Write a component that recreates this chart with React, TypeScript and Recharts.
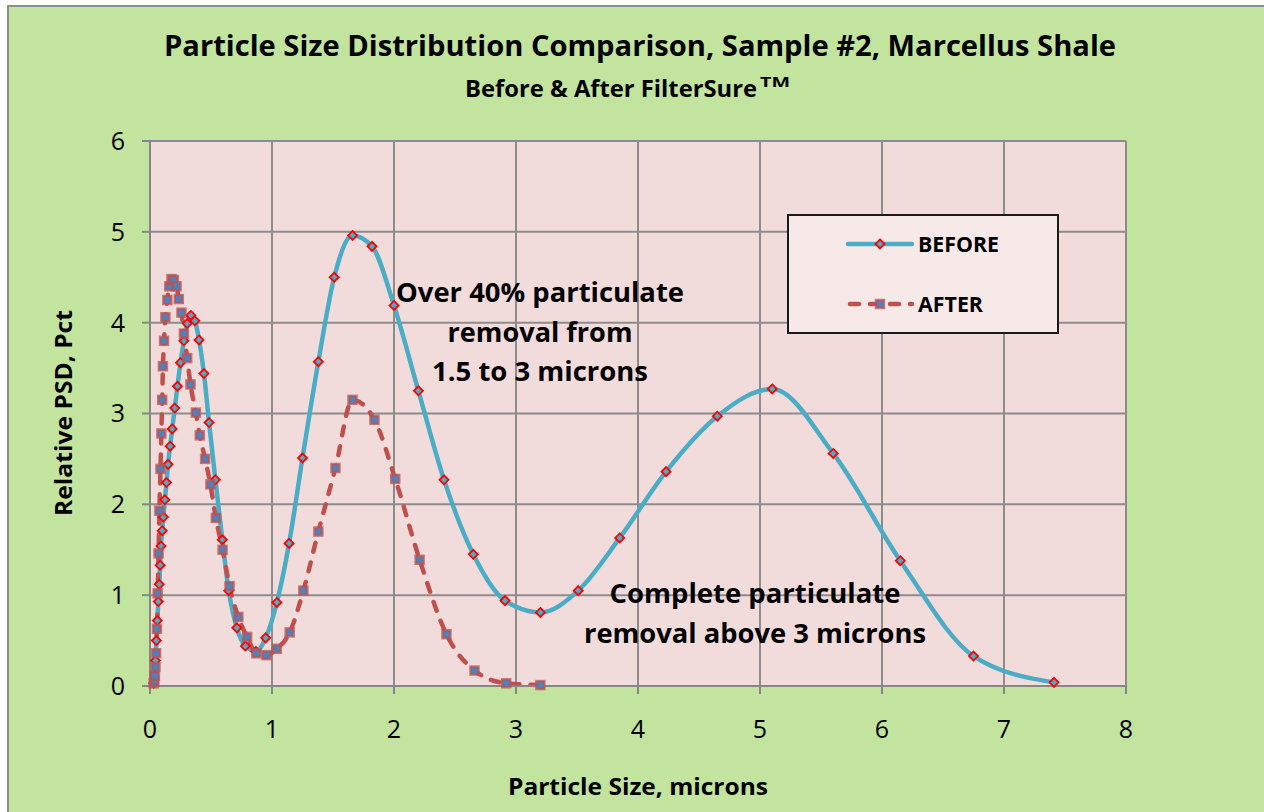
import { LineChart, Line, XAxis, YAxis, CartesianGrid } from "recharts"

// particle size (microns) and relative PSD (%)
const beforeSize = [
    0.03, 0.045, 0.052, 0.06, 0.068, 0.076, 0.083, 0.09, 0.1, 0.11, 0.122, 0.135, 0.148, 0.165, 0.182,
    0.203, 0.225, 0.25, 0.278, 0.305, 0.335, 0.368, 0.402, 0.442, 0.484, 0.536, 0.593, 0.645, 0.712,
    0.782, 0.868, 0.948, 1.04, 1.14, 1.25, 1.38, 1.51, 1.66, 1.82, 2.0, 2.2, 2.41, 2.65, 2.91, 3.2,
    3.51, 3.85, 4.23, 4.65, 5.1, 5.6, 6.15, 6.75, 7.41,
]
const beforePsd = [
    0.03, 0.28, 0.5, 0.72, 0.93, 1.12, 1.33, 1.54, 1.71, 1.86, 2.05, 2.24, 2.44, 2.64, 2.83,
    3.06, 3.3, 3.56, 3.8, 3.99, 4.08, 4.02, 3.81, 3.44, 2.9, 2.27, 1.61, 1.05, 0.64,
    0.44, 0.38, 0.53, 0.92, 1.57, 2.51, 3.57, 4.5, 4.96, 4.84, 4.19, 3.25, 2.27, 1.45, 0.94, 0.81,
    1.05, 1.63, 2.36, 2.97, 3.27, 2.56, 1.38, 0.33, 0.04,
]

const afterSize = [
    0.03, 0.035, 0.04, 0.045, 0.05, 0.057, 0.063, 0.07, 0.077, 0.086, 0.093, 0.1, 0.106, 0.115, 0.126,
    0.142, 0.158, 0.176, 0.196, 0.218, 0.236, 0.258, 0.278, 0.305, 0.332, 0.376, 0.408, 0.452, 0.495,
    0.54, 0.595, 0.652, 0.724, 0.796, 0.872, 0.954, 1.04, 1.145, 1.257, 1.38, 1.52, 1.66, 1.84, 2.01,
    2.21, 2.43, 2.66, 2.92, 3.2,
]
const afterPsd = [
    0.03, 0.06, 0.11, 0.21, 0.36, 0.63, 1.02, 1.46, 1.93, 2.39, 2.78, 3.15, 3.52, 3.8, 4.06,
    4.25, 4.4, 4.48, 4.47, 4.4, 4.26, 4.11, 3.88, 3.61, 3.32, 3.01, 2.76, 2.5, 2.22,
    1.85, 1.5, 1.1, 0.76, 0.54, 0.36, 0.34, 0.41, 0.59, 1.05, 1.7, 2.4, 3.15, 2.93, 2.28,
    1.39, 0.57, 0.17, 0.03, 0.01,
]

const xTicks = [0, 1, 2, 3, 4, 5, 6, 7, 8]
const yTicks = [0, 1, 2, 3, 4, 5, 6]

const beforeData = beforeSize.map((x, i) => ({ x, y: beforePsd[i] }))
const afterData = afterSize.map((x, i) => ({ x, y: afterPsd[i] }))

const FONT = "'Open Sans', 'Noto Sans', sans-serif"
const BLUE_LINE = "#4BACC6"
const RED_LINE = "#C0504D"
const GRID = "#8C8C8C"

const Diamond = ({ cx, cy }: any) => {
    if (cx == null || cy == null) return null
    const r = 4.5
    return (
        <path
            d={`M${cx},${cy - r} L${cx + r},${cy} L${cx},${cy + r} L${cx - r},${cy} Z`}
            fill={BLUE_LINE}
            stroke="#FF0000"
            strokeWidth={1.8}
        />
    )
}

const Square = ({ cx, cy }: any) => {
    if (cx == null || cy == null) return null
    return (
        <rect
            x={cx - 4}
            y={cy - 4}
            width={8}
            height={8}
            fill="#4F81BD"
            stroke={RED_LINE}
            strokeOpacity={0.75}
            strokeWidth={2.5}
        />
    )
}

// legend box, placed like the Excel one (top right of the plot)
const LegendBox = () => (
    <div
        style={{
            position: "absolute",
            left: 778,
            top: 207,
            width: 272,
            height: 120,
            boxSizing: "border-box",
            border: "2px solid #1a1a1a",
            background: "#F8E9E9",
        }}
    >
        <svg width={268} height={116} style={{ display: "block" }}>
            <line x1={59} y1={28} x2={123} y2={28} stroke={BLUE_LINE} strokeWidth={4.5} strokeLinecap="round" />
            <Diamond cx={91} cy={28} />
            <text x={129} y={36} fontFamily={FONT} fontWeight={700} fontSize={22} textLength={81} lengthAdjust="spacingAndGlyphs">
                BEFORE
            </text>
            <line x1={61} y1={88} x2={123} y2={88} stroke={RED_LINE} strokeWidth={4.5} strokeDasharray="9 11" strokeLinecap="round" />
            <Square cx={91} cy={88} />
            <text x={129} y={96} fontFamily={FONT} fontWeight={700} fontSize={22} textLength={65} lengthAdjust="spacingAndGlyphs">
                AFTER
            </text>
        </svg>
    </div>
)

const boldText = { fontFamily: FONT, fontWeight: 700, fill: "#000" } as const

export default function App() {
    return (
        <div
            style={{
                position: "fixed",
                left: 7,
                top: 5,
                width: 1262,
                height: 812,
                boxSizing: "border-box",
                border: "2px solid #8E8E8E",
                background: "#C3E49F",
                overflow: "hidden",
            }}
        >
            <LineChart width={1253} height={805} margin={{ top: 134, right: 136, left: 61, bottom: 66 }}>
                <CartesianGrid stroke={GRID} strokeWidth={2} fill="#F2DCDB" fillOpacity={1} />
                <XAxis
                    dataKey="x"
                    type="number"
                    domain={[0, 8]}
                    ticks={xTicks}
                    allowDuplicatedCategory={false}
                    height={60}
                    stroke="#868686"
                    strokeWidth={2}
                    tickSize={8}
                    tickMargin={26}
                    tick={{ fontFamily: FONT, fontSize: 25, fill: "#000" }}
                />
                <YAxis
                    type="number"
                    domain={[0, 6]}
                    ticks={yTicks}
                    width={80}
                    stroke="#868686"
                    strokeWidth={2}
                    tickSize={8}
                    tickMargin={17}
                    tick={{ fontFamily: FONT, fontSize: 25, fill: "#000" }}
                />
                <Line
                    name="BEFORE"
                    data={beforeData}
                    dataKey="y"
                    type="monotone"
                    stroke={BLUE_LINE}
                    strokeWidth={4.5}
                    dot={(p: any) => <Diamond key={`b-${p.index}`} cx={p.cx} cy={p.cy} />}
                    activeDot={false}
                    isAnimationActive={false}
                />
                <Line
                    name="AFTER"
                    data={afterData}
                    dataKey="y"
                    type="monotone"
                    stroke={RED_LINE}
                    strokeWidth={4.5}
                    strokeDasharray="9 11"
                    strokeLinecap="round"
                    dot={(p: any) => <Square key={`a-${p.index}`} cx={p.cx} cy={p.cy} />}
                    activeDot={false}
                    isAnimationActive={false}
                />
            </LineChart>

            <LegendBox />

            <svg width={1253} height={805} style={{ position: "absolute", left: 0, top: 0, pointerEvents: "none" }}>
                <text x={631} y={49} textAnchor="middle" fontSize={29} textLength={952} lengthAdjust="spacingAndGlyphs" {...boldText}>
                    Particle Size Distribution Comparison, Sample #2, Marcellus Shale
                </text>
                <text x={456} y={90} fontSize={23} textLength={292} lengthAdjust="spacingAndGlyphs" {...boldText}>
                    Before &amp; After FilterSure
                </text>
                <text x={751} y={80} fontSize={15} textLength={30} lengthAdjust="spacingAndGlyphs" {...boldText}>
                    TM
                </text>

                <text transform="translate(63,406) rotate(-90)" textAnchor="middle" fontSize={23} textLength={206} lengthAdjust="spacingAndGlyphs" {...boldText}>
                    Relative PSD, Pct
                </text>
                <text x={629} y={788} textAnchor="middle" fontSize={23} textLength={260} lengthAdjust="spacingAndGlyphs" {...boldText}>
                    Particle Size, microns
                </text>

                <text x={531} y={295} textAnchor="middle" fontSize={26} textLength={288} lengthAdjust="spacingAndGlyphs" {...boldText}>
                    Over 40% particulate
                </text>
                <text x={531} y={335} textAnchor="middle" fontSize={26} textLength={185} lengthAdjust="spacingAndGlyphs" {...boldText}>
                    removal from
                </text>
                <text x={531} y={374} textAnchor="middle" fontSize={26} textLength={216} lengthAdjust="spacingAndGlyphs" {...boldText}>
                    1.5 to 3 microns
                </text>

                <text x={746} y={596} textAnchor="middle" fontSize={26} textLength={291} lengthAdjust="spacingAndGlyphs" {...boldText}>
                    Complete particulate
                </text>
                <text x={746} y={636} textAnchor="middle" fontSize={26} textLength={342} lengthAdjust="spacingAndGlyphs" {...boldText}>
                    removal above 3 microns
                </text>
            </svg>
        </div>
    )
}
